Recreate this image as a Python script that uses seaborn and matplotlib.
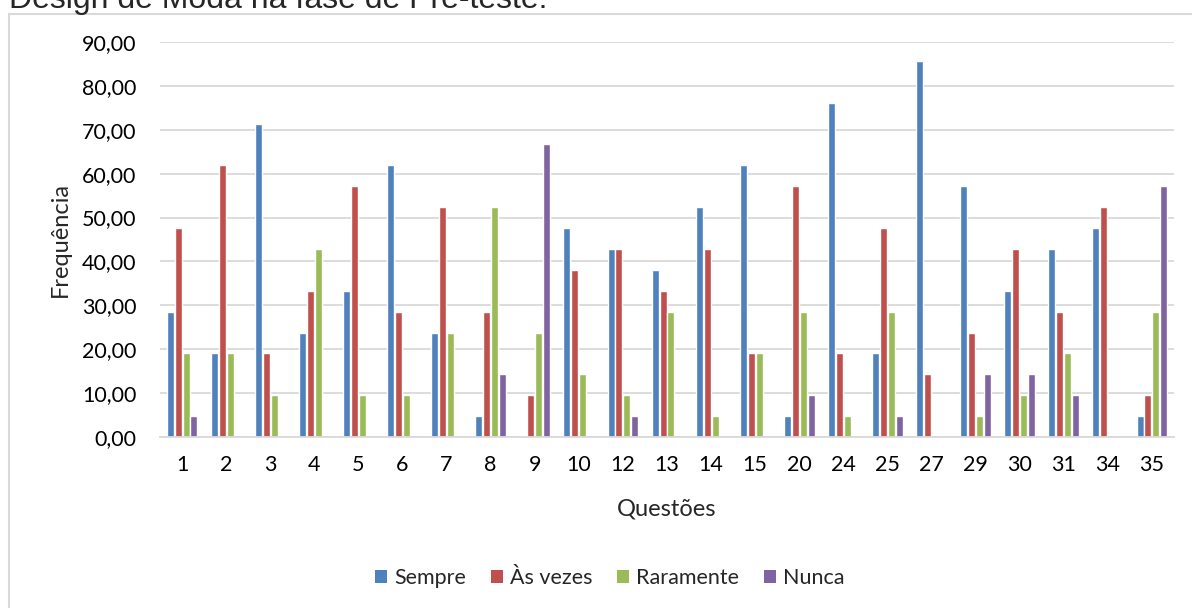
import matplotlib
matplotlib.use("Agg")
import matplotlib.pyplot as plt
from matplotlib.patches import Rectangle, Patch
import seaborn as sns
import pandas as pd

questoes = ["1", "2", "3", "4", "5", "6", "7", "8", "9", "10", "12", "13", "14", "15",
            "20", "24", "25", "27", "29", "30", "31", "34", "35"]
sempre = [28.57, 19.05, 71.43, 23.81, 33.33, 61.90, 23.81, 4.76, 0.00, 47.62, 42.86, 38.10,
          52.38, 61.90, 4.76, 76.19, 19.05, 85.71, 57.14, 33.33, 42.86, 47.62, 4.76]
as_vezes = [47.62, 61.90, 19.05, 33.33, 57.14, 28.57, 52.38, 28.57, 9.52, 38.10, 42.86, 33.33,
            42.86, 19.05, 57.14, 19.05, 47.62, 14.29, 23.81, 42.86, 28.57, 52.38, 9.52]
raramente = [19.05, 19.05, 9.52, 42.86, 9.52, 9.52, 23.81, 52.38, 23.81, 14.29, 9.52, 28.57,
             4.76, 19.05, 28.57, 4.76, 28.57, 0.00, 4.76, 9.52, 19.05, 0.00, 28.57]
nunca = [4.76, 0.00, 0.00, 0.00, 0.00, 0.00, 0.00, 14.29, 66.67, 0.00, 4.76, 0.00,
         0.00, 0.00, 9.52, 0.00, 4.76, 0.00, 14.29, 14.29, 9.52, 0.00, 57.14]
series_names = ["Sempre", "Às vezes", "Raramente", "Nunca"]
colors = ["#4F81BD", "#C0504D", "#9BBB59", "#8064A2"]
y_ticks = [0, 10, 20, 30, 40, 50, 60, 70, 80, 90]

rows = []
for name, vals in zip(series_names, [sempre, as_vezes, raramente, nunca]):
    for q, v in zip(questoes, vals):
        rows.append({"Questões": q, "Frequência": v, "Série": name})
df = pd.DataFrame(rows)

sns.set_theme(style="white")
plt.rcParams["font.family"] = ["Lato", "DejaVu Sans"]

W, H = 1192, 608
fig = plt.figure(figsize=(W / 100, H / 100), dpi=100)
ax = fig.add_axes([160 / W, (H - 437) / H, (1174 - 160) / W, (437 - 42) / H])

sns.barplot(data=df, x="Questões", y="Frequência", hue="Série", order=questoes,
            hue_order=series_names, palette=colors, width=0.72, gap=0.12,
            saturation=1, ax=ax, legend=False)

ax.set_ylim(0, 90)
ax.set_xlim(-0.5, len(questoes) - 0.5)
ax.set_yticks(y_ticks)
ax.set_yticklabels([f"{t:.2f}".replace(".", ",") for t in y_ticks])
ax.yaxis.grid(True, color="#D9D9D9", linewidth=1.3)
ax.set_axisbelow(True)
for s in ["top", "right", "left"]:
    ax.spines[s].set_visible(False)
ax.spines["bottom"].set_color("#D9D9D9")
ax.spines["bottom"].set_linewidth(1.3)
ax.tick_params(axis="both", length=0, labelsize=15.5, colors="#000000")
ax.tick_params(axis="x", pad=13)
ax.tick_params(axis="y", pad=17)
ax.set_xlabel("Questões", fontsize=17, labelpad=17)
ax.set_ylabel("Frequência", fontsize=17, labelpad=8)

handles = [Patch(facecolor=c, edgecolor="none") for c in colors]
fig.legend(handles, series_names, loc="center", bbox_to_anchor=(610 / W, (H - 578) / H),
           ncol=4, frameon=False, fontsize=15.5, handlelength=0.56, handleheight=0.56,
           handletextpad=0.33, columnspacing=1.15)

fig.patches.append(Rectangle((9 / W, -0.05), 1.1, (H - 14) / H + 0.05,
                             transform=fig.transFigure, fill=False,
                             edgecolor="#D9D9D9", linewidth=1.5, zorder=0))
fig.text(9 / W, (H - 8) / H, "Design de Moda na fase de Pré-teste.",
         fontsize=23, family=["Liberation Sans", "DejaVu Sans"], va="baseline", ha="left")

fig.savefig("out.png", dpi=100, facecolor="white")
